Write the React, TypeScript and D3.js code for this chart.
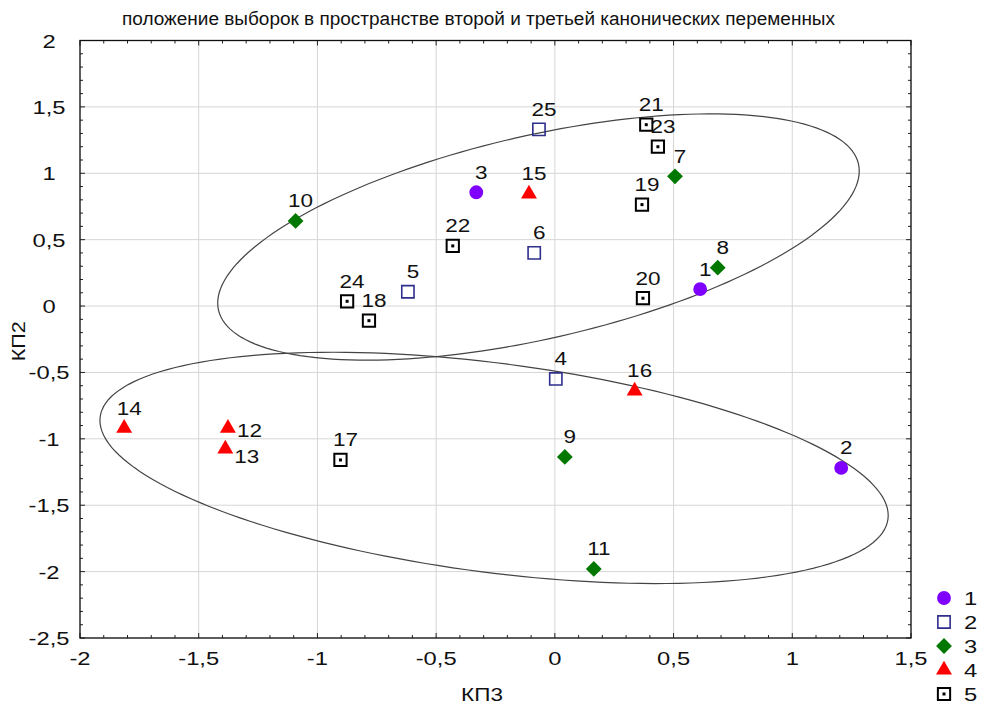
import React, { useEffect, useRef } from 'react';
import * as d3 from 'd3';

const title = 'положение выборок в пространстве второй и третьей канонических переменных';
const xLabel = 'КП3';
const yLabel = 'КП2';
const xTicks = [-2, -1.5, -1, -0.5, 0, 0.5, 1, 1.5];
const yTicks = [-2.5, -2, -1.5, -1, -0.5, 0, 0.5, 1, 1.5, 2];
const groups = ['1', '2', '3', '4', '5'];

// samples: id, group, КП3 (x), КП2 (y)
const sampleIds = [1, 2, 3, 4, 5, 6, 7, 8, 9, 10, 11, 12, 13, 14, 15, 16, 17, 18, 19, 20, 21, 22, 23, 24, 25];
const sampleGroup = ['1', '1', '1', '2', '2', '2', '3', '3', '3', '3', '3', '4', '4', '4', '4', '4', '5', '5', '5', '5', '5', '5', '5', '5', '2'];
const sampleX = [0.612, 1.206, -0.331, 0.004, -0.619, -0.087, 0.506, 0.686, 0.042, -1.092, 0.164, -1.377, -1.388, -1.814, -0.109, 0.336, -0.903, -0.783, 0.367, 0.371, 0.385, -0.43, 0.434, -0.875, -0.067];
const sampleY = [0.127, -1.219, 0.857, -0.549, 0.108, 0.4, 0.977, 0.289, -1.136, 0.641, -1.98, -0.92, -1.076, -0.92, 0.844, -0.639, -1.159, -0.11, 0.764, 0.059, 1.366, 0.453, 1.2, 0.036, 1.331];
// labels written to the right of the marker instead of above
const rightLabels = [12, 13];

// two ellipses: centre, half-diameter (u) and its vertical conjugate (v)
const ellipseCx = [-0.069, -0.256];
const ellipseCy = [0.52, -1.219];
const ellipseUx = [1.351, 1.66];
const ellipseUy = [0.497, -0.358];
const ellipseVy = [0.783, 0.794];

const width = 986;
const height = 707;
const margin = { top: 40.5, right: 75, bottom: 69, left: 80 };
const SX = 1.25; // the source text is drawn wide
const font = '"Liberation Sans", Arial, sans-serif';

const groupStyle = {
  '1': { type: d3.symbolCircle, size: 150, fill: '#7f00ff', stroke: 'none', rot: 0 },
  '2': { type: d3.symbolSquare, size: 150, fill: 'none', stroke: '#2e2e8c', rot: 0 },
  '3': { type: d3.symbolSquare, size: 125, fill: '#007800', stroke: 'none', rot: 45 },
  '4': { type: d3.symbolTriangle, size: 110, fill: '#ff0000', stroke: 'none', rot: 0 },
  '5': { type: d3.symbolSquare, size: 150, fill: 'none', stroke: '#000', rot: 0 },
};

const App = () => {
  const svgRef = useRef(null);

  useEffect(() => {
    const svg = d3.select(svgRef.current);
    svg.selectAll('*').remove();

    const x = d3.scaleLinear().domain([-2, 1.5]).range([margin.left, width - margin.right]);
    const y = d3.scaleLinear().domain([-2.5, 2]).range([height - margin.bottom, margin.top]);
    const [x0, x1] = x.range();
    const [yBottom, yTop] = y.range();

    const addText = (g, px, py, str, size, anchor = 'middle', sx = SX) => {
      g.append('g')
        .attr('transform', `translate(${px},${py}) scale(${sx},1)`)
        .append('text')
        .attr('text-anchor', anchor)
        .attr('font-family', font)
        .attr('font-size', size)
        .attr('fill', '#111')
        .text(str);
    };

    // grid
    const grid = svg.append('g');
    xTicks.forEach(t => {
      grid.append('line').attr('x1', x(t)).attr('x2', x(t)).attr('y1', yTop).attr('y2', yBottom)
        .attr('stroke', '#d6d6d6').attr('stroke-width', 1);
    });
    yTicks.forEach(t => {
      grid.append('line').attr('x1', x0).attr('x2', x1).attr('y1', y(t)).attr('y2', y(t))
        .attr('stroke', '#d6d6d6').attr('stroke-width', 1);
    });

    // minor + major ticks on all sides, pointing inward
    const ticks = svg.append('g').attr('stroke', '#222').attr('stroke-width', 1);
    d3.range(-20, 16).forEach(i => {
      const v = i / 10;
      const len = i % 5 === 0 ? 5 : 3;
      ticks.append('line').attr('x1', x(v)).attr('x2', x(v)).attr('y1', yBottom).attr('y2', yBottom - len);
      ticks.append('line').attr('x1', x(v)).attr('x2', x(v)).attr('y1', yTop).attr('y2', yTop + len);
    });
    d3.range(-25, 21).forEach(i => {
      const v = i / 10;
      const len = i % 5 === 0 ? 5 : 3;
      ticks.append('line').attr('x1', x0).attr('x2', x0 + len).attr('y1', y(v)).attr('y2', y(v));
      ticks.append('line').attr('x1', x1).attr('x2', x1 - len).attr('y1', y(v)).attr('y2', y(v));
    });

    // frame
    svg.append('rect')
      .attr('x', x0).attr('y', yTop).attr('width', x1 - x0).attr('height', yBottom - yTop)
      .attr('fill', 'none').attr('stroke', '#111').attr('stroke-width', 1.3);

    // ellipses
    const line = d3.line().x(d => x(d[0])).y(d => y(d[1])).curve(d3.curveLinearClosed);
    ellipseCx.forEach((cx, i) => {
      const pts = d3.range(0, 360, 2).map(a => {
        const t = (a * Math.PI) / 180;
        return [cx + ellipseUx[i] * Math.cos(t), ellipseCy[i] + ellipseUy[i] * Math.cos(t) + ellipseVy[i] * Math.sin(t)];
      });
      svg.append('path').attr('d', line(pts)).attr('fill', 'none')
        .attr('stroke', '#444').attr('stroke-width', 1.2);
    });

    // markers
    const drawMarker = (g, grp, px, py) => {
      const st = groupStyle[grp];
      g.append('path')
        .attr('transform', `translate(${px},${py}) rotate(${st.rot})`)
        .attr('d', d3.symbol().type(st.type).size(st.size)())
        .attr('fill', st.fill)
        .attr('stroke', st.stroke)
        .attr('stroke-width', grp === '5' ? 2 : 1.6);
      if (grp === '5') {
        g.append('rect').attr('x', px - 1.5).attr('y', py - 1.5).attr('width', 3).attr('height', 3).attr('fill', '#000');
      }
    };

    const pts = svg.append('g');
    sampleIds.forEach((id, i) => {
      drawMarker(pts, sampleGroup[i], x(sampleX[i]), y(sampleY[i]));
    });
    const labels = svg.append('g');
    sampleIds.forEach((id, i) => {
      const px = x(sampleX[i]);
      const py = y(sampleY[i]);
      if (rightLabels.includes(id)) {
        addText(labels, px + 9, py + (id === 13 ? 14 : 9), String(id), 18, 'start');
      } else {
        addText(labels, px + 5, py - 13.5, String(id), 18);
      }
    });

    // tick labels
    const tl = svg.append('g');
    xTicks.forEach(t => addText(tl, x(t), yBottom + 27, String(t).replace('.', ','), 19));
    yTicks.forEach(t => addText(tl, 49, y(t) + 7, String(t).replace('.', ','), 19));

    // axis titles
    addText(svg, 482, 701, xLabel, 18);
    svg.append('g')
      .attr('transform', `translate(25,${(yTop + yBottom) / 2 + 2}) rotate(-90) scale(1.2,1)`)
      .append('text')
      .attr('text-anchor', 'middle')
      .attr('font-family', font)
      .attr('font-size', 18)
      .attr('fill', '#111')
      .text(yLabel);

    // title
    svg.append('text')
      .attr('x', 122).attr('y', 25)
      .attr('font-family', font).attr('font-size', 18).attr('fill', '#111')
      .attr('textLength', 713).attr('lengthAdjust', 'spacingAndGlyphs')
      .text(title);

    // legend
    const legend = svg.append('g');
    groups.forEach((grp, i) => {
      const ly = 598 + i * 24;
      drawMarker(legend, grp, 944, ly);
      addText(legend, 964, ly + 7, grp, 19, 'start');
    });
  }, []);

  return (
    <div style={{ position: 'absolute', left: 0, top: 0, background: '#fff' }}>
      <svg ref={svgRef} width={width} height={height} style={{ display: 'block' }}></svg>
    </div>
  );
};

export default App;
